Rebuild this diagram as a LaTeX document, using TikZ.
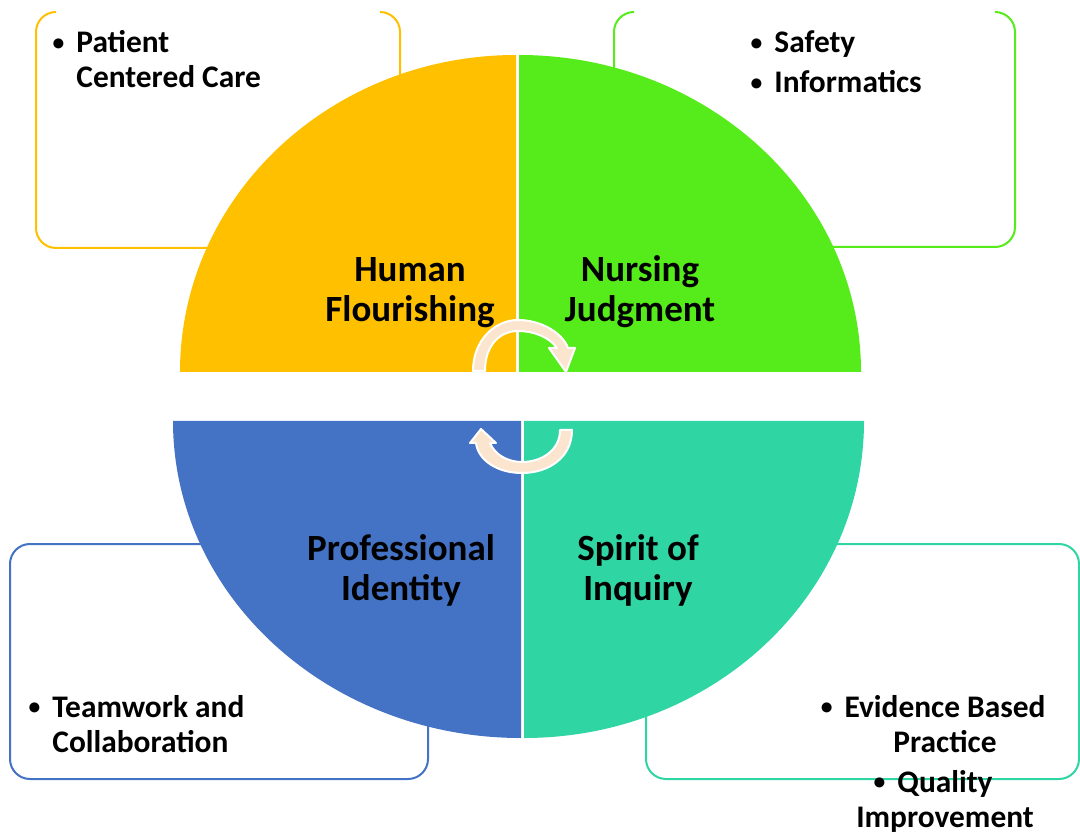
\documentclass[tikz,border=0pt]{standalone}
\usepackage{fontspec}
\setmainfont{Carlito}
\usetikzlibrary{positioning}
\definecolor{hforange}{RGB}{255,192,0}
\definecolor{njgreen}{RGB}{86,235,26}
\definecolor{piblue}{RGB}{68,114,196}
\definecolor{siteal}{RGB}{47,213,163}
\definecolor{cyclepeach}{RGB}{251,229,207}
\newcommand{\bul}{\llap{\raisebox{1.4pt}{\scalebox{0.75}{\textbullet}}\hspace{6pt}}}

\begin{document}
\begin{tikzpicture}[
    x=0.5pt, y=-0.5pt,
    listbox/.style={draw=#1, line width=1pt, rounded corners=10pt},
    title/.style={font=\bfseries\fontsize{18.5}{20}\selectfont, align=center, inner sep=0pt, anchor=base},
    bullets/.style={font=\bfseries\fontsize{15.7}{17.5}\selectfont, inner sep=0pt},
    cyc/.style={fill=cyclepeach, draw=white, line width=1pt, line join=round}
  ]
    \useasboundingbox (0,0) rectangle (1080,833);

    % list boxes behind the quadrants
    \draw[listbox=hforange] (56,12) -- (36,12) -- (36,248) -- (400,248) -- (400,12) -- (380,12);
    \draw[listbox=njgreen]  (634,12) -- (614,12) -- (614,247) -- (1015,247) -- (1015,12) -- (995,12);
    \draw[listbox=piblue]   (10,544) rectangle (428,779);
    \draw[listbox=siteal]   (646,544) rectangle (1079,779);

    % quadrants
    \fill[hforange] (516,372) -- (180,372) arc[start angle=180, end angle=270, x radius=336, y radius=317] -- cycle;
    \fill[njgreen]  (519,372) -- (519,55) arc[start angle=270, end angle=360, x radius=342, y radius=317] -- cycle;
    \fill[piblue]   (521,421) -- (173,421) arc[start angle=180, end angle=90, x radius=348, y radius=317] -- cycle;
    \fill[siteal]   (524,421) -- (864,421) arc[start angle=0, end angle=90, x radius=340, y radius=317] -- cycle;

    \node[title] (human) at (410,322) {Human\\Flourishing};
    \node[title] (nurse) at (640,322) {Nursing\\Judgment};
    \node[title] (prof)  at (401,600) {Professional\\Identity};
    \node[title] (spirit) at (638,600) {Spirit of\\Inquiry};

    \node[bullets, align=left, anchor=base west] (pcc) at (76,88) {\bul Patient\\Centered Care};
    \node[bullets, align=left, anchor=base west] (safe) at (774,93) {\bul Safety\\[2.5pt]\bul Informatics};
    \node[bullets, align=left, anchor=base west] (team) at (52,752) {\bul Teamwork and\\Collaboration};
    \node[bullets, align=center, anchor=base] (ebp) at (945,827) {\bul Evidence Based\\Practice\\[2.5pt]\bul Quality\\Improvement};

    % cycle arrows
    \draw[cyc] (473,371) .. controls (473,340) and (495,320) .. (518,320)
      .. controls (540,320) and (562,332) .. (568,348) -- (575,348) -- (566,372) -- (549,348) -- (557,348)
      .. controls (550,338) and (535,331) .. (518,331)
      .. controls (500,331) and (485,345) .. (485,371) -- cycle;
    \draw[cyc] (572,430) .. controls (572,458) and (548,473) .. (522,473)
      .. controls (497,473) and (478,460) .. (476,443) -- (470,443) -- (481,429) -- (496,443) -- (490,443)
      .. controls (495,455) and (508,462) .. (522,462)
      .. controls (542,462) and (560,450) .. (560,430) -- cycle;
\end{tikzpicture}
\end{document}
